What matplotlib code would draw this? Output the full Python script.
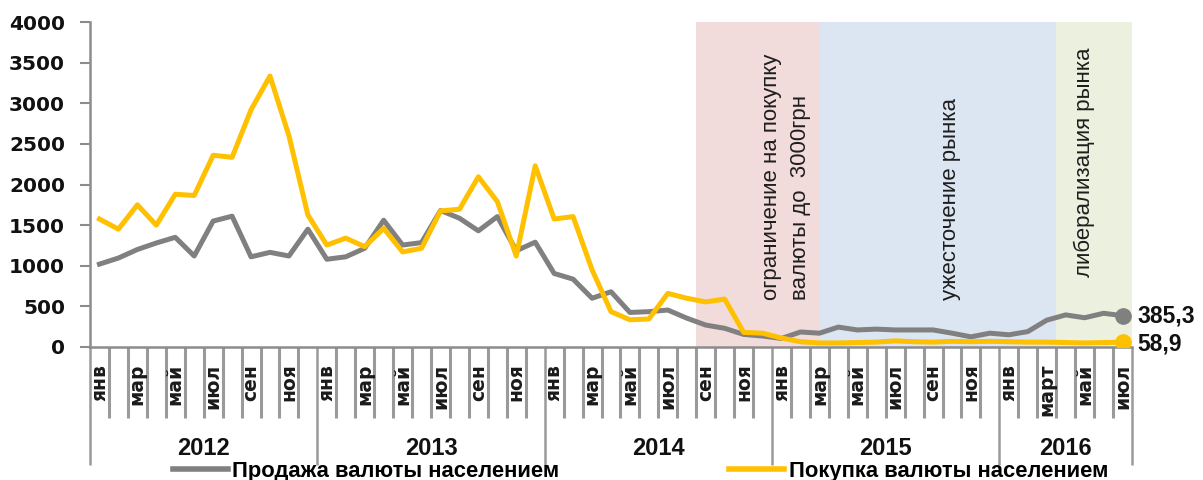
import matplotlib
matplotlib.use("Agg")
import matplotlib.pyplot as plt
from matplotlib.lines import Line2D
import numpy as np

# monthly data, Jan 2012 .. Jul 2016
sale = [1020, 1095, 1200, 1280, 1350, 1120, 1550, 1610, 1110, 1165, 1120, 1450,
        1080, 1110, 1215, 1560, 1255, 1285, 1680, 1585, 1430, 1605, 1185, 1290,
        905, 835, 600, 680, 425, 435, 455, 355, 270, 230, 155, 135,
        105, 185, 170, 245, 210, 220, 210, 210, 210, 170, 125, 170,
        150, 190, 330, 395, 360, 415, 385.3]
purchase = [1575, 1450, 1750, 1500, 1880, 1865, 2360, 2335, 2920, 3335, 2600, 1625,
            1255, 1340, 1235, 1460, 1170, 1215, 1675, 1695, 2095, 1790, 1120, 2230,
            1575, 1605, 950, 435, 335, 345, 660, 600, 555, 590, 180, 170,
            110, 65, 50, 50, 55, 60, 75, 65, 60, 70, 65, 70,
            65, 60, 60, 55, 50, 55, 58.9]

years = ["2012", "2013", "2014", "2015", "2016"]
year_bounds = [0, 12, 24, 36, 48, 55]
month_labels = ["янв", "мар", "май", "июл", "сен", "ноя"]
month_labels_2016 = ["янв", "март", "май", "июл"]

regions = [(32, 38.55, "#F2DCDB", "ограничение на покупку\nвалюты до  3000грн"),
           (38.55, 51, "#DCE6F2", "ужесточение рынка"),
           (51, 55, "#EBF1DE", "либерализация рынка")]
region_text_pos = [(36.75, 580), (45.4, 580), (52.5, 860)]
tick_tints = ["#a08a89", "#87909e", "#8d9484"]

label_sale = "Продажа валюты населением"
label_purchase = "Покупка валюты населением"

W, H = 1203, 480
fig = plt.figure(figsize=(W / 100, H / 100), dpi=100)
ax = fig.add_axes([90 / W, 1 - 347 / H, (1132 - 90) / W, (347 - 22) / H])

x = np.arange(len(sale)) + 0.5
ax.set_xlim(0, 55)
ax.set_ylim(0, 4000)

for (a, b, c, t), (tx, ty) in zip(regions, region_text_pos):
    ax.axvspan(a, b, ymin=0, ymax=1, color=c, zorder=0, lw=0)
    ax.text(tx, ty, t, rotation=90, ha="center", va="bottom", multialignment="left",
            fontsize=16, family="Liberation Sans", color="#1e1e1e", linespacing=1.5, zorder=5)

gray = "#808080"
yellow = "#FFC000"
ax.plot(x, sale, color=gray, lw=3.6, solid_joinstyle="round", zorder=3)
ax.plot(x, purchase, color=yellow, lw=3.6, solid_joinstyle="round", zorder=4)
ax.plot(x[-1], sale[-1], "o", ms=11, color=gray, zorder=4)
ax.plot(x[-1], purchase[-1], "o", ms=11, color=yellow, zorder=4)

lab_kw = dict(textcoords="offset points", va="center", ha="left", fontsize=16.5,
              family="Liberation Sans", fontweight="bold", color="#111111", annotation_clip=False)
ax.annotate("385,3", (x[-1], sale[-1]), xytext=(11, 0), **lab_kw)
ax.annotate("58,9", (x[-1], purchase[-1]), xytext=(11, -1), **lab_kw)

# y axis
ax.set_yticks(np.arange(0, 4001, 500))
ax.set_yticklabels([str(v) for v in range(0, 4001, 500)], family="DejaVu Sans",
                   fontweight="bold", fontsize=14.5, color="#111111")
ax.tick_params(axis="y", length=7, width=1.5, color="#8c8c8c", pad=11)

for s in ["top", "right"]:
    ax.spines[s].set_visible(False)
for s in ["left", "bottom"]:
    ax.spines[s].set_color("#8c8c8c")
    ax.spines[s].set_linewidth(1.8)

# x axis: month boundaries (minor) and year boundaries (major)
ax.set_xticks(year_bounds)
ax.set_xticklabels([])
ax.set_xticks(np.arange(56), minor=True)
ax.tick_params(axis="x", which="major", length=85, width=1.8, color="#9a9a9a", direction="out")
ax.tick_params(axis="x", which="minor", length=51, width=2.2, color="#9a9a9a", direction="out")

# month labels every other month
for yi, start in enumerate(year_bounds[:-1]):
    labs = month_labels_2016 if years[yi] == "2016" else month_labels
    for k, m in enumerate(labs):
        ax.annotate(m, (start + 2 * k + 0.5, 0), xycoords=("data", "axes fraction"),
                    xytext=(0, -12), textcoords="offset points", rotation=90,
                    ha="center", va="top", fontsize=13.5, family="DejaVu Sans",
                    fontweight="bold", color="#1a1a1a", annotation_clip=False)

# year labels
for yi, y in enumerate(years):
    cx = (year_bounds[yi] + year_bounds[yi + 1]) / 2
    ax.annotate(y, (cx, 0), xycoords=("data", "axes fraction"), xytext=(0, -73),
                textcoords="offset points", ha="center", va="center", fontsize=17,
                family="Liberation Sans", fontweight="bold", color="#111111",
                annotation_clip=False)

# legend
handles = [Line2D([], [], color=gray, lw=4), Line2D([], [], color=yellow, lw=4)]
fig.legend(handles, [label_sale, label_purchase], loc="center left",
           bbox_to_anchor=(173 / W, 1 - 471 / H), ncol=2, frameon=False,
           prop={"family": "Liberation Sans", "weight": "bold", "size": 15.8},
           handlelength=2.5, handletextpad=0.2, columnspacing=7.75,
           borderpad=0, borderaxespad=0)

# tint month ticks under shaded regions
fig.canvas.draw()
locs = ax.xaxis.get_minorticklocs()
for tk, loc in zip(ax.xaxis.get_minor_ticks(len(locs)), locs):
    for (a, b, c, t), tint in zip(regions, tick_tints):
        if a <= loc <= b + 0.01 and loc < 55:
            tk.tick1line.set_color(tint)

fig.savefig("out.png", dpi=100)
